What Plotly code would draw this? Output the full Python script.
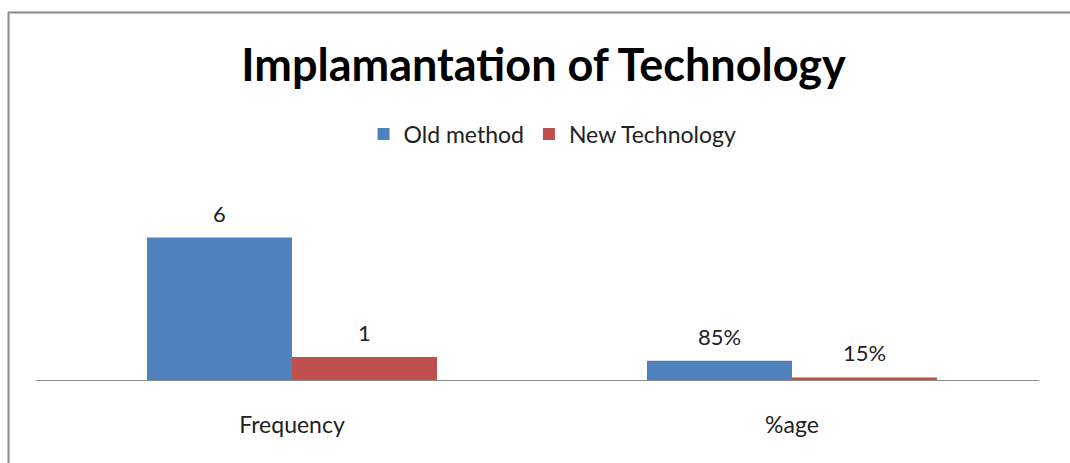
import plotly.graph_objects as go

# Chart data
categories = ["Frequency", "%age"]
old_method = [6, 0.85]
new_technology = [1, 0.15]
label_formats = ["{:.0f}", "{:.0%}"]

series_names = ["Old method", "New Technology"]
series_colors = ["#4F81BD", "#C0504D"]

W, H = 1070, 463
ML, MR, MT, MB = 36, 31, 170, 82
PX_PER_UNIT = 23.9
plot_h = H - MT - MB
y_top = plot_h / PX_PER_UNIT

BARGAP = 0.42
X_RANGE = [-0.512, 1.494]
FONT = "Lato, 'Open Sans', sans-serif"

fig = go.Figure()
xs = list(range(len(categories)))
for name, vals, color in zip(series_names, [old_method, new_technology], series_colors):
    fig.add_trace(go.Bar(
        x=xs, y=vals, name=name,
        marker=dict(color=color, line=dict(width=0)),
    ))

# value labels above each bar
n_series = 2
group_w = 1 - BARGAP
bar_w = group_w / n_series
annotations = []
for s, vals in enumerate([old_method, new_technology]):
    for i, v in enumerate(vals):
        cx = i - group_w / 2 + bar_w * (s + 0.5)
        annotations.append(dict(
            x=cx, y=v, xref="x", yref="y",
            text=label_formats[i].format(v),
            showarrow=False, yanchor="bottom", yshift=9,
            font=dict(family=FONT, size=22, color="#222222"),
        ))

fig.update_layout(
    width=W, height=H,
    margin=dict(l=ML, r=MR, t=MT, b=MB),
    paper_bgcolor="white", plot_bgcolor="white",
    barmode="group", bargap=BARGAP, bargroupgap=0,
    title=dict(
        text="<b>Implamantation of Technology</b>",
        x=0.508, xanchor="center", y=1 - 65 / H, yanchor="middle",
        font=dict(family=FONT, size=45, color="black"),
    ),
    legend=dict(
        orientation="h", x=0.515, xanchor="center",
        y=1 + (MT - 134) / plot_h, yanchor="middle",
        font=dict(family=FONT, size=23, color="#222222"),
        itemwidth=30, traceorder="normal",
    ),
    xaxis=dict(
        tickvals=xs, ticktext=categories, range=X_RANGE,
        showgrid=False, zeroline=False, showline=False, ticks="",
        ticklabelstandoff=28,
        tickfont=dict(family=FONT, size=23, color="#222222"),
    ),
    yaxis=dict(
        range=[0, y_top], visible=False, showgrid=False,
    ),
    annotations=annotations,
    showlegend=True,
)

# baseline under the bars
fig.add_shape(type="line", xref="paper", yref="y", x0=0, x1=1, y0=0, y1=0,
              line=dict(color="#8c8c8c", width=2))

# outer chart frame (top and left edges)
pw = W - ML - MR
def px_to_paper_x(px):
    return (px - ML) / pw
def px_to_paper_y(py):
    return (H - MB - py) / plot_h
fig.add_shape(type="line", xref="paper", yref="paper",
              x0=px_to_paper_x(8), x1=px_to_paper_x(W),
              y0=px_to_paper_y(12.5), y1=px_to_paper_y(12.5),
              line=dict(color="#8a8a8a", width=2))
fig.add_shape(type="line", xref="paper", yref="paper",
              x0=px_to_paper_x(8.5), x1=px_to_paper_x(8.5),
              y0=px_to_paper_y(12), y1=px_to_paper_y(H),
              line=dict(color="#8a8a8a", width=2))

fig.write_html("out.html")
